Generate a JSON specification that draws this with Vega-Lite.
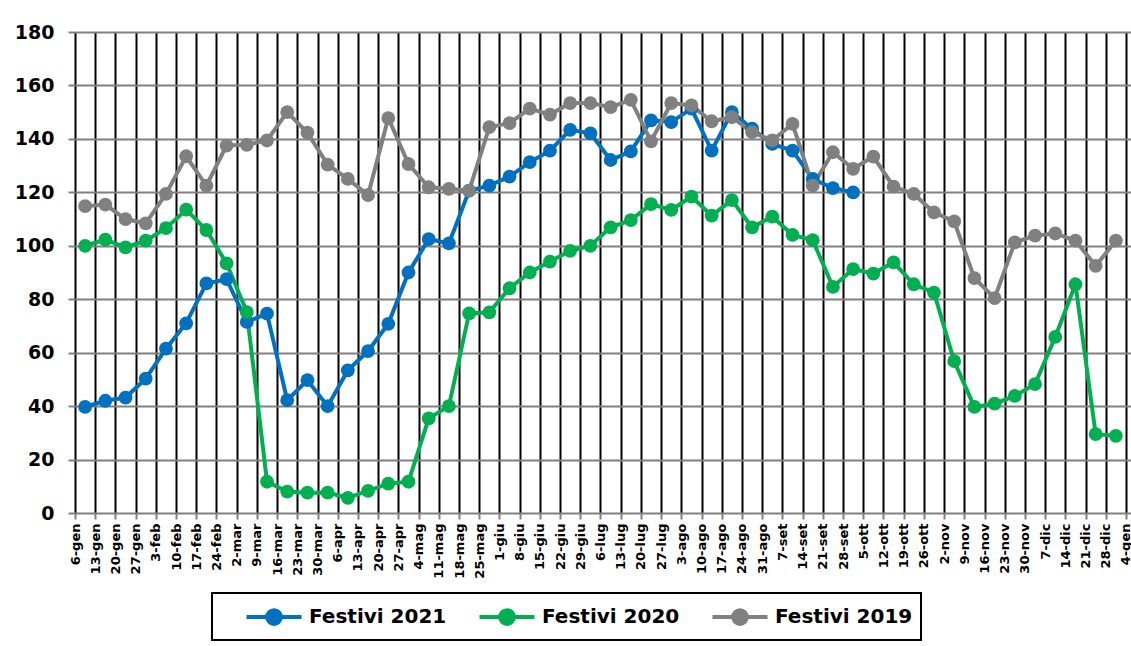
{
 "$schema": "https://vega.github.io/schema/vega-lite/v6.json",
 "width": 1051,
 "height": 481,
 "autosize": {"type": "none"},
 "padding": {"left": 75, "top": 32, "right": 5, "bottom": 133},
 "background": "white",
 "data": {"values": [
  {"w":"6-gen","Festivi 2021":39.7,"Festivi 2020":100,"Festivi 2019":114.8},
  {"w":"13-gen","Festivi 2021":42,"Festivi 2020":102.3,"Festivi 2019":115.4},
  {"w":"20-gen","Festivi 2021":43.2,"Festivi 2020":99.4,"Festivi 2019":110},
  {"w":"27-gen","Festivi 2021":50.3,"Festivi 2020":101.9,"Festivi 2019":108.4},
  {"w":"3-feb","Festivi 2021":61.5,"Festivi 2020":106.6,"Festivi 2019":119.4},
  {"w":"10-feb","Festivi 2021":71,"Festivi 2020":113.5,"Festivi 2019":133.5},
  {"w":"17-feb","Festivi 2021":85.9,"Festivi 2020":105.9,"Festivi 2019":122.5},
  {"w":"24-feb","Festivi 2021":87.5,"Festivi 2020":93.4,"Festivi 2019":137.5},
  {"w":"2-mar","Festivi 2021":71.5,"Festivi 2020":75.2,"Festivi 2019":137.8},
  {"w":"9-mar","Festivi 2021":74.6,"Festivi 2020":11.7,"Festivi 2019":139.4},
  {"w":"16-mar","Festivi 2021":42.2,"Festivi 2020":8,"Festivi 2019":150},
  {"w":"23-mar","Festivi 2021":49.7,"Festivi 2020":7.6,"Festivi 2019":142.3},
  {"w":"30-mar","Festivi 2021":40,"Festivi 2020":7.6,"Festivi 2019":130.4},
  {"w":"6-apr","Festivi 2021":53.4,"Festivi 2020":5.7,"Festivi 2019":125},
  {"w":"13-apr","Festivi 2021":60.6,"Festivi 2020":8.3,"Festivi 2019":119},
  {"w":"20-apr","Festivi 2021":70.8,"Festivi 2020":11,"Festivi 2019":147.8},
  {"w":"27-apr","Festivi 2021":90,"Festivi 2020":11.7,"Festivi 2019":130.6},
  {"w":"4-mag","Festivi 2021":102.5,"Festivi 2020":35.4,"Festivi 2019":121.9},
  {"w":"11-mag","Festivi 2021":100.9,"Festivi 2020":40,"Festivi 2019":121.3},
  {"w":"18-mag","Festivi 2021":120.6,"Festivi 2020":74.7,"Festivi 2019":120.6},
  {"w":"25-mag","Festivi 2021":122.5,"Festivi 2020":75.1,"Festivi 2019":144.4},
  {"w":"1-giu","Festivi 2021":125.9,"Festivi 2020":84.1,"Festivi 2019":145.9},
  {"w":"8-giu","Festivi 2021":131.3,"Festivi 2020":90,"Festivi 2019":151.3},
  {"w":"15-giu","Festivi 2021":135.6,"Festivi 2020":94.1,"Festivi 2019":149.1},
  {"w":"22-giu","Festivi 2021":143.4,"Festivi 2020":98.1,"Festivi 2019":153.4},
  {"w":"29-giu","Festivi 2021":142.1,"Festivi 2020":100,"Festivi 2019":153.4},
  {"w":"6-lug","Festivi 2021":132.1,"Festivi 2020":106.9,"Festivi 2019":151.9},
  {"w":"13-lug","Festivi 2021":135.3,"Festivi 2020":109.6,"Festivi 2019":154.6},
  {"w":"20-lug","Festivi 2021":146.9,"Festivi 2020":115.6,"Festivi 2019":139.1},
  {"w":"27-lug","Festivi 2021":146.3,"Festivi 2020":113.4,"Festivi 2019":153.4},
  {"w":"3-ago","Festivi 2021":151.3,"Festivi 2020":118.4,"Festivi 2019":152.5},
  {"w":"10-ago","Festivi 2021":135.6,"Festivi 2020":111.3,"Festivi 2019":146.6},
  {"w":"17-ago","Festivi 2021":150,"Festivi 2020":117.1,"Festivi 2019":148.1},
  {"w":"24-ago","Festivi 2021":143.8,"Festivi 2020":106.9,"Festivi 2019":142.5},
  {"w":"31-ago","Festivi 2021":138.1,"Festivi 2020":110.9,"Festivi 2019":139.4},
  {"w":"7-set","Festivi 2021":135.6,"Festivi 2020":104.1,"Festivi 2019":145.6},
  {"w":"14-set","Festivi 2021":125,"Festivi 2020":102.1,"Festivi 2019":122.5},
  {"w":"21-set","Festivi 2021":121.6,"Festivi 2020":84.6,"Festivi 2019":135},
  {"w":"28-set","Festivi 2021":120,"Festivi 2020":91.3,"Festivi 2019":128.8},
  {"w":"5-ott","Festivi 2020":89.6,"Festivi 2019":133.4},
  {"w":"12-ott","Festivi 2020":93.8,"Festivi 2019":122.1},
  {"w":"19-ott","Festivi 2020":85.6,"Festivi 2019":119.4},
  {"w":"26-ott","Festivi 2020":82.5,"Festivi 2019":112.5},
  {"w":"2-nov","Festivi 2020":56.8,"Festivi 2019":109.1},
  {"w":"9-nov","Festivi 2020":39.7,"Festivi 2019":87.9},
  {"w":"16-nov","Festivi 2020":40.9,"Festivi 2019":80.4},
  {"w":"23-nov","Festivi 2020":43.8,"Festivi 2019":101.3},
  {"w":"30-nov","Festivi 2020":48.2,"Festivi 2019":103.8},
  {"w":"7-dic","Festivi 2020":65.9,"Festivi 2019":104.6},
  {"w":"14-dic","Festivi 2020":85.6,"Festivi 2019":101.9},
  {"w":"21-dic","Festivi 2020":29.5,"Festivi 2019":92.5},
  {"w":"28-dic","Festivi 2020":28.9,"Festivi 2019":101.9}
 ]},
 "transform": [
  {"fold": ["Festivi 2021", "Festivi 2020", "Festivi 2019"], "as": ["serie", "valore"]},
  {"filter": "isValid(datum.valore)"}
 ],
 "mark": {"type": "line", "strokeWidth": 4, "point": {"filled": true, "size": 190, "opacity": 1}},
 "encoding": {
  "x": {
   "field": "w", "type": "ordinal", "bandPosition": 0.5,
   "scale": {"type": "band", "paddingInner": 0, "paddingOuter": 0, "range": [0, 1071.2],
    "domain": ["6-gen","13-gen","20-gen","27-gen","3-feb","10-feb","17-feb","24-feb","2-mar","9-mar","16-mar","23-mar","30-mar","6-apr","13-apr","20-apr","27-apr","4-mag","11-mag","18-mag","25-mag","1-giu","8-giu","15-giu","22-giu","29-giu","6-lug","13-lug","20-lug","27-lug","3-ago","10-ago","17-ago","24-ago","31-ago","7-set","14-set","21-set","28-set","5-ott","12-ott","19-ott","26-ott","2-nov","9-nov","16-nov","23-nov","30-nov","7-dic","14-dic","21-dic","28-dic","4-gen"]},
   "axis": {"title": null, "grid": true, "gridColor": "#000000", "gridWidth": 2, "gridOpacity": 1,
    "domain": false, "ticks": true, "tickColor": "#808080", "tickWidth": 2, "tickSize": 6, "tickBand": "extent",
    "labelAngle": -90, "labelOverlap": false, "labelOffset": -10.1, "labelFont": "DejaVu Sans", "labelFontWeight": "bold", "labelFontSize": 13,
    "labelColor": "#000000", "labelPadding": 4}
  },
  "y": {
   "field": "valore", "type": "quantitative",
   "scale": {"domain": [0, 180], "nice": false},
   "axis": {"title": null, "values": [0, 20, 40, 60, 80, 100, 120, 140, 160, 180], "grid": true, "gridColor": "#808080",
    "gridWidth": 2, "gridOpacity": 1, "domain": false, "tickColor": "#808080", "tickWidth": 2, "tickSize": 7,
    "labelPadding": 14, "labelFont": "DejaVu Sans", "labelFontWeight": "bold", "labelFontSize": 19, "labelColor": "#000000"}
  },
  "color": {
   "field": "serie", "type": "nominal", "sort": null,
   "scale": {"domain": ["Festivi 2021", "Festivi 2020", "Festivi 2019"], "range": ["#0070C0", "#00B050", "#808080"]},
   "legend": {
    "orient": "none", "legendX": 137, "legendY": 561, "direction": "horizontal", "title": null,
    "strokeColor": "#000000", "padding": 8, "columnPadding": 6,
    "labelFont": "DejaVu Sans", "labelFontWeight": "bold", "labelFontSize": 20, "labelColor": "#000000", "labelLimit": 400,
    "symbolType": "M-2,0L2,0M-0.5,0A0.5,0.5 0 1,0 0.5,0A0.5,0.5 0 1,0 -0.5,0Z",
    "symbolSize": 756, "symbolStrokeWidth": 4, "labelOffset": 19, "symbolOffset": 38,
    "encode": {
     "legend": {"update": {"strokeWidth": {"value": 2}}},
     "symbols": {"update": {"fill": {"scale": "color", "field": "value"}, "stroke": {"scale": "color", "field": "value"}, "opacity": {"value": 1}}}
    }
   }
  }
 },
 "config": {"view": {"stroke": null}}
}
